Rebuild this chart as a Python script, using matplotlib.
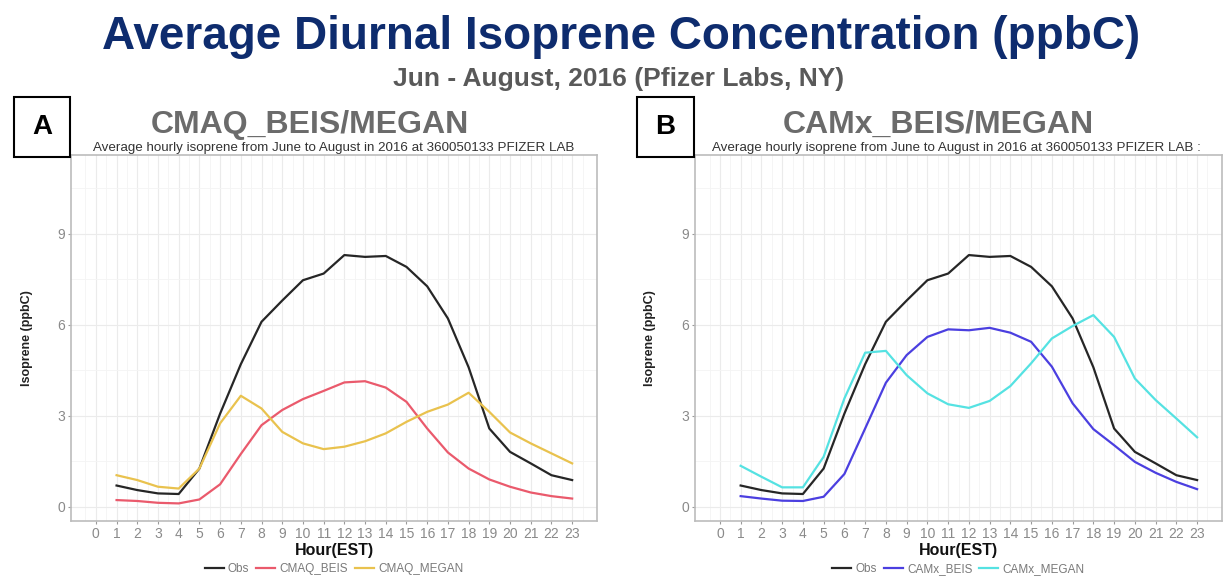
import matplotlib
matplotlib.use("Agg")
import matplotlib.pyplot as plt
from matplotlib.patches import Rectangle
from matplotlib.lines import Line2D

hours = list(range(1, 24))
obs = [0.70, 0.55, 0.44, 0.42, 1.26, 3.07, 4.70, 6.10, 6.80, 7.47, 7.69, 8.30, 8.24, 8.27,
       7.91, 7.27, 6.21, 4.60, 2.58, 1.81, 1.43, 1.04, 0.88]
cmaq_beis = [0.22, 0.19, 0.13, 0.11, 0.24, 0.74, 1.74, 2.69, 3.19, 3.55, 3.82, 4.10, 4.14, 3.93,
             3.46, 2.58, 1.79, 1.26, 0.90, 0.66, 0.47, 0.35, 0.27]
cmaq_megan = [1.04, 0.88, 0.66, 0.60, 1.26, 2.75, 3.66, 3.24, 2.47, 2.09, 1.90, 1.98, 2.16, 2.42,
              2.80, 3.13, 3.37, 3.76, 3.13, 2.45, 2.09, 1.76, 1.43]
camx_beis = [0.35, 0.27, 0.20, 0.19, 0.33, 1.08, 2.58, 4.09, 5.00, 5.60, 5.85, 5.82, 5.90, 5.74,
             5.44, 4.62, 3.41, 2.56, 2.03, 1.48, 1.12, 0.82, 0.58]
camx_megan = [1.35, 0.99, 0.64, 0.64, 1.65, 3.57, 5.08, 5.14, 4.34, 3.74, 3.38, 3.26, 3.49, 3.98,
              4.73, 5.55, 5.96, 6.32, 5.60, 4.23, 3.52, 2.91, 2.29]

xticks = list(range(0, 24))
yticks = [0, 3, 6, 9]

main_title = "Average Diurnal Isoprene Concentration (ppbC)"
sub_title = "Jun - August, 2016 (Pfizer Labs, NY)"
panel_titles = ["CMAQ_BEIS/MEGAN", "CAMx_BEIS/MEGAN"]
panel_subs = ["Average hourly isoprene from June to August in 2016 at 360050133 PFIZER LAB",
              "Average hourly isoprene from June to August in 2016 at 360050133 PFIZER LAB :"]
panel_letters = ["A", "B"]

C_OBS = "#262626"
C_CB = "#ea5a6c"
C_CM = "#e9c24e"
C_XB = "#4b3fe0"
C_XM = "#55e2e2"

plt.rcParams['font.family'] = ['Liberation Sans', 'DejaVu Sans']

W, H = 1231, 581
fig = plt.figure(figsize=(W / 100, H / 100), dpi=100)
fig.patch.set_facecolor("white")

def fx(px):
    return px / W

def fy(py):
    return 1 - py / H

fig.text(fx(621), fy(37), main_title, ha="center", va="center", fontsize=33,
         fontweight="bold", color="#0e2c6e")
fig.text(fx(619), fy(79), sub_title, ha="center", va="center", fontsize=19,
         fontweight="bold", color="#595959")

panels = [
    dict(left=71, right=597, series=[(obs, C_OBS, "Obs"), (cmaq_beis, C_CB, "CMAQ_BEIS"),
                                     (cmaq_megan, C_CM, "CMAQ_MEGAN")],
         box=(14, 97, 70, 157), title_x=310, sub_x=334, ylab_x=33),
    dict(left=695, right=1222, series=[(obs, C_OBS, "Obs"), (camx_beis, C_XB, "CAMx_BEIS"),
                                       (camx_megan, C_XM, "CAMx_MEGAN")],
         box=(637, 97, 694, 157), title_x=938, sub_x=956, ylab_x=656),
]

top_px, bot_px = 155, 521
for i, p in enumerate(panels):
    ax = fig.add_axes([fx(p["left"]), fy(bot_px), fx(p["right"] - p["left"]),
                       (bot_px - top_px) / H])
    for vals, col, lab in p["series"]:
        ax.plot(hours, vals, color=col, lw=1.6, label=lab, solid_joinstyle="round")
    ax.set_xlim(-1.2, 24.2)
    ax.set_ylim(-0.47, 11.6)
    ax.set_xticks(xticks)
    ax.set_xticks([x + 0.5 for x in range(-1, 24)], minor=True)
    ax.set_yticks(yticks)
    ax.set_yticks([1.5, 4.5, 7.5, 10.5], minor=True)
    ax.grid(which="major", color="#ebebeb", lw=0.8)
    ax.grid(which="minor", color="#f4f4f4", lw=0.6)
    ax.set_axisbelow(True)
    for s in ax.spines.values():
        s.set_color("#bcbcbc")
        s.set_linewidth(1.2)
    ax.tick_params(axis="both", which="major", colors="#9a9a9a", labelcolor="#8a8a8a",
                   labelsize=10, length=2.5, width=0.8, pad=2)
    ax.tick_params(which="minor", length=0)
    ax.set_xlabel("Hour(EST)", fontsize=11.5, fontweight="bold", color="#111111", labelpad=1)
    ax.set_ylabel("Isoprene (ppbC)", fontsize=9, fontweight="bold", color="#222222")
    ax.yaxis.set_label_coords(fx(p["ylab_x"] - p["left"]) / fx(p["right"] - p["left"]), 0.5)
    handles = [Line2D([0], [0], color=c, lw=1.6) for _, c, _ in p["series"]]
    labels = [l for _, _, l in p["series"]]
    ax.legend(handles, labels, loc="center", bbox_to_anchor=(0.5, -(569 - bot_px) / (bot_px - top_px)),
              ncol=3, frameon=False, fontsize=8.5, handlelength=1.6, handletextpad=0.35,
              columnspacing=0.6, labelcolor="#7a7a7a",
              bbox_transform=ax.transAxes)
    # panel title and subtitle
    fig.text(fx(p["title_x"]), fy(125), panel_titles[i], ha="center", va="center",
             fontsize=23, fontweight="bold", color="#6b6b6b")
    fig.text(fx(p["sub_x"]), fy(148), panel_subs[i], ha="center", va="center",
             fontsize=9.6, color="#333333")
    # letter box
    x0, y0, x1, y1 = p["box"]
    fig.patches.append(Rectangle((fx(x0), fy(y1)), fx(x1 - x0), (y1 - y0) / H,
                                 transform=fig.transFigure, facecolor="white",
                                 edgecolor="black", lw=1.5, zorder=5))
    fig.text(fx((x0 + x1) / 2), fy((y0 + y1) / 2), panel_letters[i], ha="center",
             va="center", fontsize=20, fontweight="bold", color="black", zorder=6)

fig.savefig("out.png", dpi=100, facecolor="white")
